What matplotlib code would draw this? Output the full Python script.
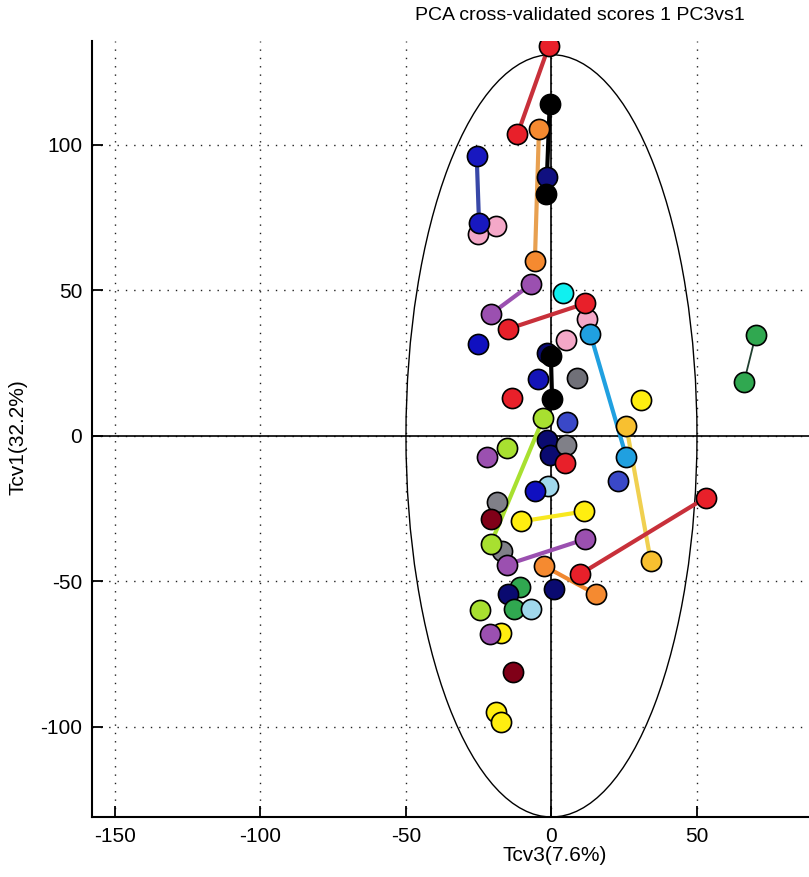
import numpy as np
import matplotlib
matplotlib.use("Agg")
import matplotlib.pyplot as plt
from matplotlib.patches import Ellipse

plt.rcParams['font.family'] = ['Liberation Sans Narrow', 'Liberation Sans', 'DejaVu Sans']
plt.rcParams['axes.unicode_minus'] = False

# pares unidos por linea (replicas de validacion cruzada): x1, x2 / y1, y2
pair_x = [[-0.9, -11.7], [-0.6, -1.8], [-4.3, -5.7], [-25.7, -24.9], [-7.0, -20.9],
          [11.6, -15.0], [-0.2, 0.2], [13.4, 25.7], [-2.8, -20.9], [25.7, 34.1],
          [-10.4, 11.1], [-15.4, 11.6], [9.9, 53.1], [-2.6, 15.2], [70.2, 66.2]]
pair_y = [[134.0, 103.6], [114.0, 83.0], [105.4, 60.1], [96.2, 73.3], [52.1, 41.8],
          [45.5, 36.7], [27.5, 12.6], [34.9, -7.2], [6.1, -37.2], [3.4, -42.9],
          [-29.4, -26.0], [-44.3, -35.5], [-47.5, -21.2], [-44.7, -54.4], [34.7, 18.6]]
pair_mk = ['#e8202a', '#000000', '#f58a30', '#1818c0', '#9b50b0',
           '#e8202a', '#000000', '#20a0e0', '#a8e030', '#f8c030',
           '#ffee10', '#9b50b0', '#e8202a', '#f58a30', '#30a850']
pair_ln = ['#c8303a', '#000000', '#e8a050', '#3848a8', '#9b50b0',
           '#c8303a', '#000000', '#20a0e0', '#a8e030', '#f0d050',
           '#f8e820', '#9b50b0', '#c8303a', '#f08830', '#204030']
pair_lw = [3, 3, 3, 3, 3, 3, 3, 3, 3, 3, 3, 3, 3, 3, 1.3]

# puntos sueltos
pt_x = [-1.5, -19.2, -25.2, 3.9, 12.2, 5.0, -25.1, -1.5, -4.6, 8.8,
        -13.5, 30.7, 5.4, -1.5, -0.5, 5.0, -15.4, -22.3, 4.6, 22.7,
        -1.1, -5.5, -18.8, -20.7, -16.9, -10.7, 1.0, -14.8, -12.9, -7.2,
        -24.6, -17.5, -21.1, -13.1, -18.9, -17.5]
pt_y = [88.8, 72.2, 69.3, 49.2, 40.1, 32.9, 31.5, 28.3, 19.5, 20.0,
        13.0, 12.4, 4.9, -1.5, -6.5, -3.1, -4.2, -7.2, -9.4, -15.5,
        -17.2, -18.9, -22.9, -28.6, -39.7, -52.1, -52.8, -54.4, -59.6, -59.6,
        -59.9, -67.6, -68.2, -81.0, -94.8, -98.5]
pt_col = ['#101080', '#f4a8c8', '#f4a8c8', '#10f0f0', '#f4a8c8', '#f4a8c8', '#1010c0', '#0a0a70', '#1414b8', '#707078',
          '#e8202a', '#ffee10', '#3a48c8', '#0a0a70', '#0a0a70', '#808088', '#a8e030', '#9b50b0', '#e8202a', '#3a48c8',
          '#a0d8ec', '#1010c0', '#808088', '#800018', '#808088', '#30a850', '#0a0a70', '#0a0a70', '#30a850', '#a0d8ec',
          '#a8e030', '#ffee10', '#9b50b0', '#800018', '#ffee10', '#ffee10']

# elipse de confianza (semiejes)
ell_a = 50.0
ell_b = 131.0

fig = plt.figure(figsize=(8.09, 8.77), dpi=100)
ax = fig.add_axes([92 / 809, 60 / 877, 1 - 92 / 809, 776 / 877])

ax.set_xlim(-157.9, 88.5)
ax.set_ylim(-131.0, 135.7)
ax.set_xticks([-150, -100, -50, 0, 50])
ax.set_yticks([-100, -50, 0, 50, 100])
ax.grid(True, color='#202020', linestyle=(0, (1, 5)), linewidth=1)
ax.set_axisbelow(True)

ax.axhline(0, color='black', linewidth=1.2, zorder=1)
ax.vlines(0, -ell_b, ell_b, color='black', linewidth=1.2, zorder=1)
ax.add_patch(Ellipse((0, 0), 2 * ell_a, 2 * ell_b, fill=False, edgecolor='black', linewidth=1, zorder=1))

for i in range(len(pair_x)):
    ax.plot(pair_x[i], pair_y[i], color=pair_ln[i], linewidth=pair_lw[i], zorder=2)

for i in range(len(pt_x)):
    ax.plot(pt_x[i], pt_y[i], 'o', markersize=14.5, markerfacecolor=pt_col[i],
            markeredgecolor='black', markeredgewidth=1.2, zorder=3)
for i in range(len(pair_x)):
    ax.plot(pair_x[i], pair_y[i], 'o', markersize=14.5, markerfacecolor=pair_mk[i],
            markeredgecolor='black', markeredgewidth=1.2, linestyle='none', zorder=3)

for s in ['top', 'right']:
    ax.spines[s].set_visible(False)
for s in ['left', 'bottom']:
    ax.spines[s].set_linewidth(1.5)
ax.tick_params(direction='in', length=8, width=1.3, labelsize=15, pad=7)

ax.set_xlabel('Tcv3(7.6%)', fontsize=15)
ax.xaxis.set_label_coords((555 - 92) / 717, -0.037)
ax.set_ylabel('Tcv1(32.2%)', fontsize=15)
ax.yaxis.set_label_coords((28 - 92) / 717, 0.49)

fig.text(580 / 809, 1 - 15 / 877, 'PCA cross-validated scores 1 PC3vs1', fontsize=14,
         ha='center', va='center')

fig.savefig('out.png', dpi=100)
